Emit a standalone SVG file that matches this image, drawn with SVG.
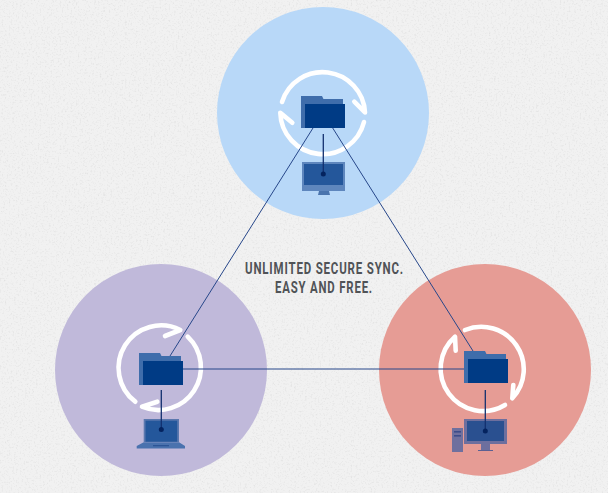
<svg xmlns="http://www.w3.org/2000/svg" width="608" height="493" viewBox="0 0 608 493">
<style>
.ring{fill:none;stroke:#fff;stroke-width:4.6;stroke-linecap:round;stroke-linejoin:round}
.back{fill:#3f6dab}
.front{fill:#003b85}
.link{fill:none;stroke:#27478a;stroke-width:1}
.stem{fill:none;stroke:#12306f;stroke-width:1.3}
.dot{fill:#04235f}
.title{font-family:Roboto,"Liberation Sans",sans-serif;font-size:16.5px;font-weight:700;letter-spacing:1.2px;fill:#505357;text-anchor:middle}
</style>
<defs>
<filter id="grain" x="0" y="0" width="100%" height="100%">
<feTurbulence type="fractalNoise" baseFrequency="0.55" numOctaves="3" seed="4"/>
<feColorMatrix type="matrix" values="0 0 0 0 0.68 0 0 0 0 0.68 0 0 0 0 0.68 0 0 0 1.4 -0.72"/>
</filter>
</defs>
<g id="background">
<rect width="608" height="493" fill="#f1f1f1"/>
<rect width="608" height="493" filter="url(#grain)"/>
</g>
<g id="node-top">
<circle cx="323" cy="113" r="106" fill="#b8d8f8"/>
<path class="ring" d="M282,102 A42.5,42.5 0 0 1 365,112.5 L354.3,101.7"/>
<path class="ring" d="M364,122 A42.5,42.5 0 0 1 280.3,112.7 L292.3,122.7"/>
<path class="back" d="M301,96 H322 L323.5,99 H343 V128 H301 Z"/>
<rect class="front" x="305" y="104" width="40" height="24"/>
<rect x="302" y="162" width="43" height="29" fill="#5e86bd"/>
<rect x="304" y="164" width="39" height="21" fill="#24579b"/>
<path d="M319,191 H329 L330,195 H318 Z" fill="#4a74ad"/>
</g>
<g id="node-left">
<circle cx="161" cy="370" r="106" fill="#c0b9da"/>
<path class="ring" d="M135.3,401.7 A42.5,42.5 0 0 1 180.3,330 L165,336"/>
<path class="ring" d="M187.7,336.7 A42.5,42.5 0 0 1 142,406.7 L157.3,401.7"/>
<path class="back" d="M139,353 H160 L161.5,356 H181 V385 H139 Z"/>
<rect class="front" x="143" y="361" width="40" height="24"/>
<rect x="143.7" y="419" width="35.3" height="23" fill="#5b78ae"/>
<rect x="145.5" y="420.7" width="31.7" height="21" fill="#24579b"/>
<path d="M143.7,442.3 H179 L185,446 V448.5 H136.7 V446 Z" fill="#4a72ae"/>
<rect x="153" y="445" width="16" height="1.3" fill="#2c5596"/>
</g>
<g id="node-right">
<circle cx="485" cy="370" r="106" fill="#e69c95"/>
<path class="ring" d="M505,405 A42.5,42.5 0 0 1 455,336.7 L455.7,350.7"/>
<path class="ring" d="M465,330 A42.5,42.5 0 0 1 512.3,398.3 L513.3,385"/>
<path class="back" d="M464,351 H485 L486.5,354 H506 V383 H464 Z"/>
<rect class="front" x="468" y="359" width="40" height="24"/>
<rect x="464" y="419" width="43" height="25" fill="#6d6f9e"/>
<rect x="467" y="421" width="37" height="20" fill="#2a5090"/>
<rect x="481" y="444" width="9" height="6" fill="#6d6f9e"/>
<rect x="478" y="450" width="15" height="1" fill="#5b6092"/>
<rect x="452" y="428" width="11" height="24" fill="#6f709e"/>
<rect x="454" y="431" width="7" height="1.6" fill="#3c4c8a"/>
<rect x="454" y="435" width="7" height="1.6" fill="#3c4c8a"/>
</g>
<g id="connectors">
<path class="link" d="M313,128 L170,356"/>
<path class="link" d="M332.7,128 L473,351"/>
<path class="link" d="M183,369 H464"/>
<path class="stem" d="M323.3,134 V174"/>
<circle class="dot" cx="323.3" cy="174" r="2.5"/>
<path class="stem" d="M161.3,390 V429.5"/>
<circle class="dot" cx="161.3" cy="429.5" r="2.5"/>
<path class="stem" d="M485.3,390 V431"/>
<circle class="dot" cx="485.3" cy="431" r="2.5"/>
</g>
<g id="title">
<text class="title" x="324.5" y="274" textLength="159" lengthAdjust="spacingAndGlyphs">UNLIMITED SECURE SYNC.</text>
<text class="title" x="324" y="293" textLength="98" lengthAdjust="spacingAndGlyphs">EASY AND FREE.</text>
</g>
</svg>
